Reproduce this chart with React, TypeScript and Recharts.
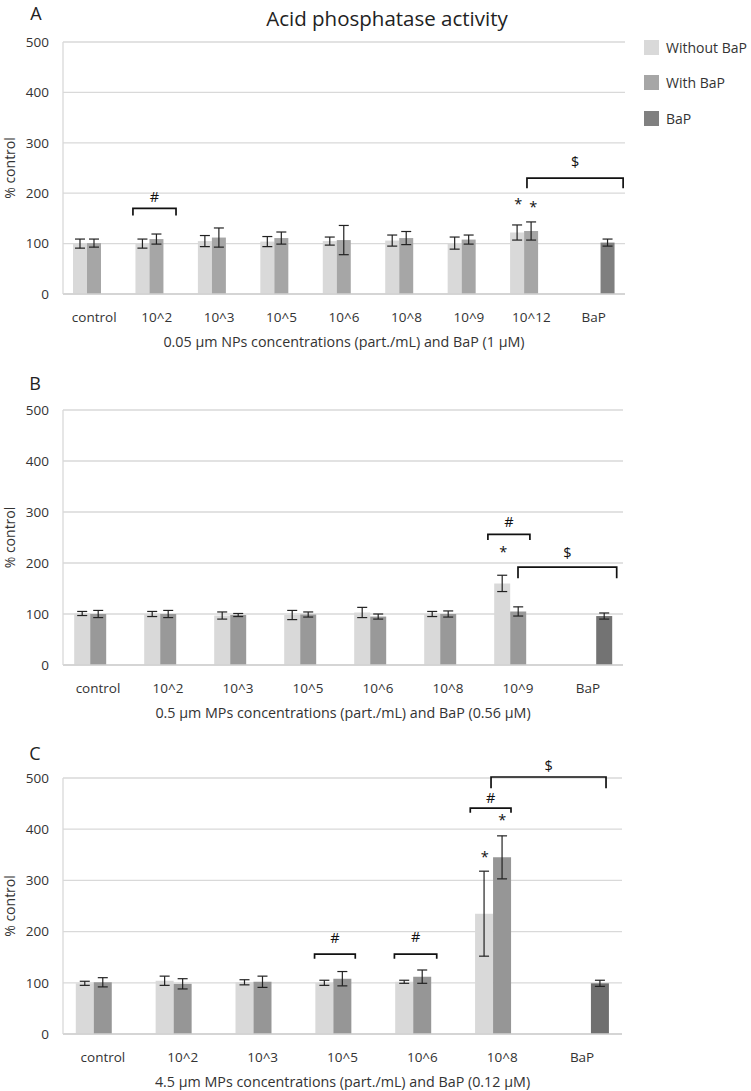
import React from "react";
import { BarChart, Bar, XAxis, YAxis, CartesianGrid, ErrorBar } from "recharts";

const seriesNames = ["Without BaP", "With BaP", "BaP"];
const legendColors = ["#d9d9d9", "#a6a6a6", "#808080"];
const yTicks = [0, 100, 200, 300, 400, 500];

// panel A - 0.05 µm NPs
const catsA = ["control", "10^2", "10^3", "10^5", "10^6", "10^8", "10^9", "10^12", "BaP"];
const withoutA = [100, 100, 105, 104, 105, 106, 101, 122, null];
const withoutErrA = [9, 9, 11, 10, 8, 11, 12, 15, null];
const withA = [101, 109, 112, 111, 107, 111, 108, 125, null];
const withErrA = [8, 10, 19, 12, 29, 13, 9, 18, null];
const bapA = [null, null, null, null, null, null, null, null, 102];
const bapErrA = [null, null, null, null, null, null, null, null, 7];

// panel B - 0.5 µm MPs
const catsB = ["control", "10^2", "10^3", "10^5", "10^6", "10^8", "10^9", "BaP"];
const withoutB = [101, 100, 97, 98, 103, 100, 160, null];
const withoutErrB = [4, 5, 7, 9, 10, 5, 16, null];
const withB = [100, 100, 98, 99, 95, 100, 105, null];
const withErrB = [7, 7, 3, 5, 5, 6, 9, null];
const bapB = [null, null, null, null, null, null, null, 96];
const bapErrB = [null, null, null, null, null, null, null, 6];

// panel C - 4.5 µm MPs
const catsC = ["control", "10^2", "10^3", "10^5", "10^6", "10^8", "BaP"];
const withoutC = [99, 104, 101, 100, 102, 235, null];
const withoutErrC = [4, 9, 5, 5, 3, 83, null];
const withC = [101, 98, 102, 108, 112, 345, null];
const withErrC = [9, 10, 11, 14, 13, 42, null];
const bapC = [null, null, null, null, null, null, 99];
const bapErrC = [null, null, null, null, null, null, 6];

// significance marks, x in category units (0 = left edge of plot)
const bracketsA = [
  { from: 1.12, to: 1.81, top: 170, leg: 156, label: "#", labelAt: 192 },
  { from: 7.43, to: 8.97, top: 230, leg: 210, label: "$", labelAt: 262 },
];
const starsA = [{ at: 7.29, value: 185 }, { at: 7.53, value: 179 }];

const bracketsB = [
  { from: 6.07, to: 6.67, top: 256, leg: 245, label: "#", labelAt: 280 },
  { from: 6.5, to: 7.91, top: 192, leg: 170, label: "$", labelAt: 221 },
];
const starsB = [{ at: 6.29, value: 227 }];

const bracketsC = [
  { from: 3.15, to: 3.66, top: 156, leg: 147, label: "#", labelAt: 188 },
  { from: 4.15, to: 4.68, top: 156, leg: 147, label: "#", labelAt: 190 },
  { from: 5.1, to: 5.61, top: 441, leg: 432, label: "#", labelAt: 461 },
  { from: 5.36, to: 6.8, top: 502, leg: 480, label: "$", labelAt: 523 },
];
const starsC = [{ at: 5.28, value: 352 }, { at: 5.5, value: 424 }];

const CHART_W = 640;
const Y_W = 63;
const HEAD = 30;
const X_H = 56;
const TXT = "#333";

function buildRows(cats, wo, woErr, w, wErr, b, bErr) {
  return cats.map((c, i) => ({
    cat: c,
    wo: wo[i],
    woErr: woErr[i],
    w: w[i],
    wErr: wErr[i],
    b: b[i],
    bErr: bErr[i],
  }));
}

function Marks({ n, plotW, plotH, brackets, stars }) {
  const band = plotW / n;
  const xAt = (c) => Y_W + c * band;
  const yAt = (v) => HEAD + ((500 - v) / 500) * plotH;
  return (
    <svg
      width={CHART_W}
      height={HEAD + plotH + X_H}
      style={{ position: "absolute", left: 0, top: 0, pointerEvents: "none", overflow: "visible" }}
    >
      {brackets.map((br, i) => {
        const x1 = xAt(br.from);
        const x2 = xAt(br.to);
        const yt = yAt(br.top);
        const yl = yAt(br.leg);
        return (
          <g key={i}>
            <path
              d={`M${x1},${yl} L${x1},${yt} L${x2},${yt} L${x2},${yl}`}
              fill="none"
              stroke="#111"
              strokeWidth={1.7}
            />
            <text
              x={(x1 + x2) / 2}
              y={yAt(br.labelAt)}
              dy="0.36em"
              textAnchor="middle"
              fontSize={14.5}
              fill="#111"
            >
              {br.label}
            </text>
          </g>
        );
      })}
      {stars.map((s, i) => (
        <text key={"s" + i} x={xAt(s.at)} y={yAt(s.value)} dy="0.55em" textAnchor="middle" fontSize={14.5} fill="#111">
          *
        </text>
      ))}
    </svg>
  );
}

function Panel({ top, plotH, plotRight, rows, n, medium, dark, xTitle, brackets, stars }) {
  const plotW = plotRight - Y_W;
  const height = HEAD + plotH + X_H;
  return (
    <div style={{ position: "absolute", left: 0, top: top - HEAD, width: CHART_W, height }}>
      <BarChart
        width={CHART_W}
        height={height}
        data={rows}
        margin={{ top: HEAD, right: CHART_W - plotRight, bottom: 0, left: 0 }}
        barCategoryGap="16%"
        barGap={0}
      >
        <CartesianGrid vertical={false} stroke="#d9d9d9" strokeWidth={1.3} />
        <XAxis
          dataKey="cat"
          height={X_H}
          tickSize={0}
          tickMargin={18}
          axisLine={{ stroke: "#d0d0d0", strokeWidth: 1.3 }}
          tick={{ fill: TXT, fontSize: 13.5 }}
          interval={0}
          label={{ value: xTitle, position: "insideBottom", offset: 3, fill: TXT, fontSize: 14.3 }}
        />
        <YAxis
          width={Y_W}
          domain={[0, 500]}
          ticks={yTicks}
          tickSize={0}
          tickMargin={14}
          axisLine={{ stroke: "#d9d9d9", strokeWidth: 1.3 }}
          tick={{ fill: TXT, fontSize: 13.5 }}
          label={{
            value: "% control",
            angle: -90,
            position: "insideLeft",
            offset: 10,
            fill: TXT,
            fontSize: 14,
            style: { textAnchor: "middle" },
          }}
        />
        <Bar dataKey="wo" name={seriesNames[0]} fill="#d9d9d9" isAnimationActive={false}>
          <ErrorBar dataKey="woErr" width={5} stroke="#222" strokeWidth={1.2} direction="y" />
        </Bar>
        <Bar dataKey="w" name={seriesNames[1]} fill={medium} isAnimationActive={false}>
          <ErrorBar dataKey="wErr" width={5} stroke="#222" strokeWidth={1.2} direction="y" />
        </Bar>
        <Bar dataKey="b" name={seriesNames[2]} fill={dark} isAnimationActive={false}>
          <ErrorBar dataKey="bErr" width={5} stroke="#222" strokeWidth={1.2} direction="y" />
        </Bar>
      </BarChart>
      <Marks n={n} plotW={plotW} plotH={plotH} brackets={brackets} stars={stars} />
    </div>
  );
}

function Tag({ x, y, size, children }) {
  return (
    <div
      style={{
        position: "absolute",
        left: x,
        top: y,
        transform: "translate(-50%, -50%)",
        fontSize: size,
        lineHeight: 1,
        whiteSpace: "nowrap",
        color: "#222",
      }}
    >
      {children}
    </div>
  );
}

export default function App() {
  const rowsA = buildRows(catsA, withoutA, withoutErrA, withA, withErrA, bapA, bapErrA);
  const rowsB = buildRows(catsB, withoutB, withoutErrB, withB, withErrB, bapB, bapErrB);
  const rowsC = buildRows(catsC, withoutC, withoutErrC, withC, withErrC, bapC, bapErrC);
  return (
    <div
      style={{
        position: "absolute",
        left: 0,
        top: 0,
        width: 751,
        height: 1091,
        background: "#fff",
        fontFamily: "'Open Sans', sans-serif",
        overflow: "hidden",
      }}
    >
      <Tag x={36} y={13} size={18}>A</Tag>
      <Tag x={387} y={18} size={20.5}>Acid phosphatase activity</Tag>
      <Tag x={35} y={383} size={18}>B</Tag>
      <Tag x={35} y={753} size={18}>C</Tag>

      {seriesNames.map((s, i) => (
        <div
          key={s}
          style={{ position: "absolute", left: 644, top: 47 + i * 35.5 - 8, display: "flex", alignItems: "center", height: 16 }}
        >
          <div style={{ width: 15, height: 15, background: legendColors[i], marginRight: 7 }} />
          <span style={{ fontSize: 14, color: "#333", whiteSpace: "nowrap" }}>{s}</span>
        </div>
      ))}

      <Panel
        top={42}
        plotH={252}
        plotRight={625}
        rows={rowsA}
        n={catsA.length}
        medium="#a6a6a6"
        dark="#7f7f7f"
        xTitle="0.05 µm NPs concentrations (part./mL) and BaP (1 µM)"
        brackets={bracketsA}
        stars={starsA}
      />
      <Panel
        top={410}
        plotH={255}
        plotRight={623}
        rows={rowsB}
        n={catsB.length}
        medium="#999999"
        dark="#737373"
        xTitle="0.5 µm MPs concentrations (part./mL) and BaP (0.56 µM)"
        brackets={bracketsB}
        stars={starsB}
      />
      <Panel
        top={778}
        plotH={256}
        plotRight={622}
        rows={rowsC}
        n={catsC.length}
        medium="#969696"
        dark="#6f6f6f"
        xTitle="4.5 µm MPs concentrations (part./mL) and BaP (0.12 µM)"
        brackets={bracketsC}
        stars={starsC}
      />
    </div>
  );
}
